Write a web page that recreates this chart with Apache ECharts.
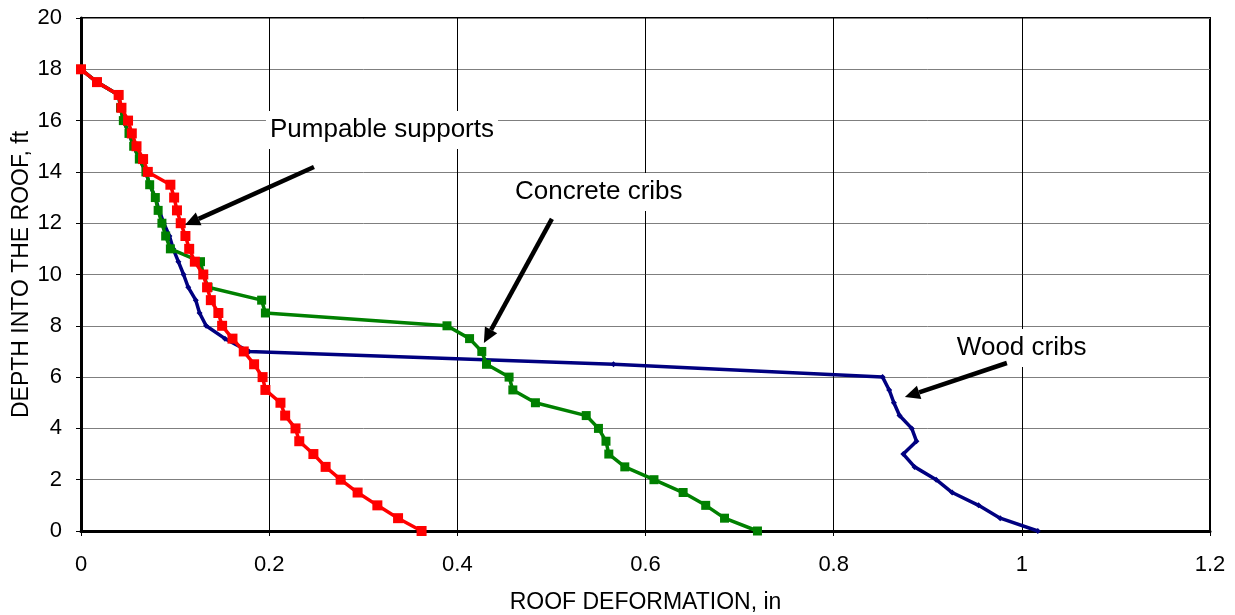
<!DOCTYPE html>
<html>
<head>
    <meta charset="UTF-8">
    <title>Roof deformation</title>
    <script src="https://cdn.jsdelivr.net/npm/echarts@6/dist/echarts.min.js"></script>
    <style>
        html, body { margin: 0; padding: 0; background: #fff; }
        #main { width: 1235px; height: 615px; }
    </style>
</head>
<body>
<div id="main"></div>
<script type="text/javascript">
    // depth into the roof, ft (same steps for all three curves)
    var depths = [18, 17.5, 17, 16.5, 16, 15.5, 15, 14.5, 14, 13.5, 13, 12.5, 12, 11.5, 11, 10.5, 10, 9.5, 9,
        8.5, 8, 7.5, 7, 6.5, 6, 5.5, 5, 4.5, 4, 3.5, 3, 2.5, 2, 1.5, 1, 0.5, 0];

    // roof deformation, in
    var woodCribs = [0, 0.017, 0.040, 0.042, 0.045, 0.051, 0.056, 0.062, 0.069, 0.073, 0.079, 0.083, 0.088, 0.094, 0.098,
        0.1035, 0.109, 0.114, 0.122, 0.126, 0.133, 0.153, 0.1785, 0.566, 0.852, 0.859, 0.864, 0.870, 0.883, 0.888,
        0.874, 0.886, 0.909, 0.926, 0.954, 0.977, 1.017];
    var concreteCribs = [0, 0.017, 0.040, 0.042, 0.045, 0.051, 0.056, 0.062, 0.069, 0.073, 0.079, 0.082, 0.086, 0.090,
        0.095, 0.127, 0.130, 0.135, 0.192, 0.196, 0.389, 0.413, 0.426, 0.431, 0.455, 0.459, 0.483, 0.537, 0.550,
        0.558, 0.561, 0.578, 0.609, 0.640, 0.664, 0.684, 0.719];
    var pumpableSupports = [0, 0.017, 0.040, 0.043, 0.050, 0.054, 0.059, 0.066, 0.071, 0.095, 0.099, 0.102, 0.106,
        0.111, 0.115, 0.121, 0.130, 0.134, 0.138, 0.146, 0.150, 0.161, 0.173, 0.184, 0.193, 0.196, 0.212, 0.217,
        0.228, 0.232, 0.247, 0.260, 0.276, 0.294, 0.315, 0.337, 0.362];

    // labels with their arrows: [label, text anchor x,y, arrow start x,y, arrow tip x,y] in data units
    var notes = [
        ['Pumpable supports', 0.1966, 15.63, 0.2476, 14.19, 0.1105, 11.93],
        ['Concrete cribs', 0.457, 13.22, 0.5005, 12.17, 0.4282, 7.33],
        ['Wood cribs', 0.9267, 7.13, 0.9841, 6.55, 0.8757, 5.22]
    ];

    function pairs(xs) {
        return xs.map(function (x, i) { return [x, depths[i]]; });
    }

    var myChart = echarts.init(document.getElementById('main'));

    var font = 'Liberation Sans, Arial, sans-serif';

    var option = {
        animation: false,
        backgroundColor: '#ffffff',
        grid: {
            left: 81, right: 25, top: 18, bottom: 84,
            containLabel: false, outerBoundsMode: 'none',
            show: true, borderColor: '#000', borderWidth: 2
        },
        xAxis: {
            type: 'value', min: 0, max: 1.2, interval: 0.2,
            name: 'ROOF DEFORMATION, in', nameLocation: 'middle', nameGap: 60, nameMoveOverlap: false,
            nameTextStyle: { fontFamily: font, fontSize: 23, color: '#000' },
            axisLine: { show: true, onZero: false, lineStyle: { color: '#000', width: 3 } },
            axisTick: { show: true, length: 5, lineStyle: { color: '#000' } },
            axisLabel: { fontFamily: font, fontSize: 22, color: '#000', margin: 23 },
            splitLine: { show: true, lineStyle: { color: '#000', width: 1 } }
        },
        yAxis: {
            type: 'value', min: 0, max: 20, interval: 2,
            name: 'DEPTH INTO THE ROOF, ft', nameLocation: 'middle', nameGap: 48, nameMoveOverlap: false,
            nameTextStyle: { fontFamily: font, fontSize: 23, color: '#000' },
            axisLine: { show: true, onZero: false, lineStyle: { color: '#000', width: 3 } },
            axisTick: { show: true, length: 5, lineStyle: { color: '#000' } },
            axisLabel: { fontFamily: font, fontSize: 22, color: '#000', margin: 19 },
            splitLine: { show: true, lineStyle: { color: '#7f7f7f', width: 1 } }
        },
        series: [
            {
                name: 'Wood cribs', type: 'line', data: pairs(woodCribs),
                symbol: 'diamond', symbolSize: 6,
                itemStyle: { color: '#000080' },
                lineStyle: { color: '#000080', width: 3.5 }, z: 2
            },
            {
                name: 'Concrete cribs', type: 'line', data: pairs(concreteCribs),
                symbol: 'rect', symbolSize: 9,
                itemStyle: { color: '#008000' },
                lineStyle: { color: '#008000', width: 3.5 }, z: 3
            },
            {
                name: 'Pumpable supports', type: 'line', data: pairs(pumpableSupports),
                symbol: 'rect', symbolSize: 10,
                itemStyle: { color: '#ff0000' },
                lineStyle: { color: '#ff0000', width: 3.5 }, z: 4
            }
        ]
    };

    myChart.setOption(option);

    // draw the call-out labels and arrows on top of the plot
    function arrow(p0, p1) {
        var dx = p1[0] - p0[0], dy = p1[1] - p0[1];
        var len = Math.sqrt(dx * dx + dy * dy);
        var ux = dx / len, uy = dy / len;
        var headLen = 15, headW = 7;
        var bx = p1[0] - ux * headLen, by = p1[1] - uy * headLen;
        return [
            {
                type: 'line', z: 20,
                shape: { x1: p0[0], y1: p0[1], x2: bx, y2: by },
                style: { stroke: '#000', lineWidth: 4.5 }
            },
            {
                type: 'polygon', z: 20,
                shape: { points: [p1, [bx - uy * headW, by + ux * headW], [bx + uy * headW, by - ux * headW]] },
                style: { fill: '#000' }
            }
        ];
    }

    var elements = [];
    notes.forEach(function (n) {
        var t = myChart.convertToPixel({ gridIndex: 0 }, [n[1], n[2]]);
        var a = myChart.convertToPixel({ gridIndex: 0 }, [n[3], n[4]]);
        var b = myChart.convertToPixel({ gridIndex: 0 }, [n[5], n[6]]);
        elements.push({
            type: 'text', z: 19, x: t[0], y: t[1],
            style: {
                text: n[0], fontFamily: font, fontSize: 26, fill: '#000',
                align: 'left', verticalAlign: 'middle',
                backgroundColor: '#fff', padding: [6, 4, 6, 4]
            }
        });
        elements = elements.concat(arrow(a, b));
    });
    myChart.setOption({ graphic: elements });
</script>
</body>
</html>
